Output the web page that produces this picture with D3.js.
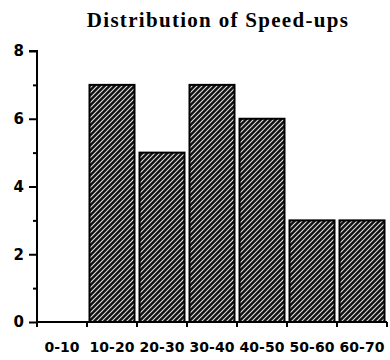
<!DOCTYPE html>
<html>
<head>
<meta charset="utf-8">
<script src="https://cdn.jsdelivr.net/npm/d3@7"></script>
<style>
  body { margin: 0; background: #fff; }
</style>
</head>
<body>
<svg id="chart"></svg>
<script>
const categories = ["0-10", "10-20", "20-30", "30-40", "40-50", "50-60", "60-70"];
const counts = [0, 7, 5, 7, 6, 3, 3];
const yTicks = [0, 2, 4, 6, 8];
const yMinorTicks = [1, 3, 5, 7];

const svg = d3.select("#chart").attr("width", 390).attr("height", 360);

const margin = { left: 37, right: 3, top: 51, bottom: 38 };
const width = 390 - margin.left - margin.right;
const height = 360 - margin.top - margin.bottom;

const defs = svg.append("defs");
const hatch = defs
  .append("pattern")
  .attr("id", "hatch")
  .attr("patternUnits", "userSpaceOnUse")
  .attr("width", 5)
  .attr("height", 5);
hatch.append("rect").attr("width", 5).attr("height", 5).attr("fill", "#111");
hatch
  .append("path")
  .attr("d", "M-1,1 L1,-1 M0,5 L5,0 M4,6 L6,4")
  .attr("stroke", "#e0e0e0")
  .attr("stroke-width", 1.1);

const g = svg
  .append("g")
  .attr("transform", `translate(${margin.left}, ${margin.top})`);

const x = d3.scaleBand().domain(categories).range([0, width]).paddingInner(0.1).paddingOuter(0.05);
const y = d3.scaleLinear().domain([0, 8]).range([height, 0]);

// bars
g.selectAll("rect.bar")
  .data(categories.map((c, i) => ({ c, v: counts[i] })).filter((d) => d.v > 0))
  .join("rect")
  .attr("class", "bar")
  .attr("x", (d) => x(d.c))
  .attr("y", (d) => y(d.v))
  .attr("width", x.bandwidth())
  .attr("height", (d) => y(0) - y(d.v))
  .attr("fill", "url(#hatch)")
  .attr("stroke", "#000")
  .attr("stroke-width", 2);

// y axis
const yAxis = g
  .append("g")
  .call(d3.axisLeft(y).tickValues(yTicks).tickSize(8).tickPadding(5).tickFormat(d3.format("d")));
g.append("g")
  .call(d3.axisLeft(y).tickValues(yMinorTicks).tickSize(4).tickFormat(""))
  .select(".domain")
  .remove();

// x axis
const xEdges = d3.range(categories.length + 1).map((i) => i * (width / categories.length));
const xAxis = g.append("g").attr("transform", `translate(0, ${height})`);
xAxis
  .append("line")
  .attr("x1", 0)
  .attr("x2", width)
  .attr("stroke", "#000")
  .attr("stroke-width", 2);
xAxis
  .selectAll("line.tick")
  .data(xEdges)
  .join("line")
  .attr("class", "tick")
  .attr("x1", (d) => d)
  .attr("x2", (d) => d)
  .attr("y1", 0)
  .attr("y2", 5)
  .attr("stroke", "#000")
  .attr("stroke-width", 2);
xAxis
  .selectAll("text")
  .data(categories)
  .join("text")
  .attr("x", (d) => x(d) + x.bandwidth() / 2)
  .attr("y", 30)
  .attr("text-anchor", "middle")
  .attr("font-family", "'DejaVu Sans', sans-serif")
  .attr("font-weight", "bold")
  .attr("font-size", 14)
  .attr("fill", "#000")
  .text((d) => d);

g.selectAll(".domain").attr("stroke-width", 2);
g.selectAll(".tick line").attr("stroke-width", 2);
yAxis
  .selectAll("text")
  .attr("font-family", "'DejaVu Sans', sans-serif")
  .attr("font-weight", "bold")
  .attr("font-size", 15)
  .attr("fill", "#000");
yAxis.select(".domain").attr("d", `M0,${height}V0H-8`);

svg
  .append("text")
  .attr("x", 218)
  .attr("y", 27)
  .attr("text-anchor", "middle")
  .attr("font-family", "'Liberation Serif', serif")
  .attr("font-weight", "bold")
  .attr("font-size", 21)
  .attr("letter-spacing", 1.3)
  .text("Distribution of Speed-ups");
</script>
</body>
</html>
